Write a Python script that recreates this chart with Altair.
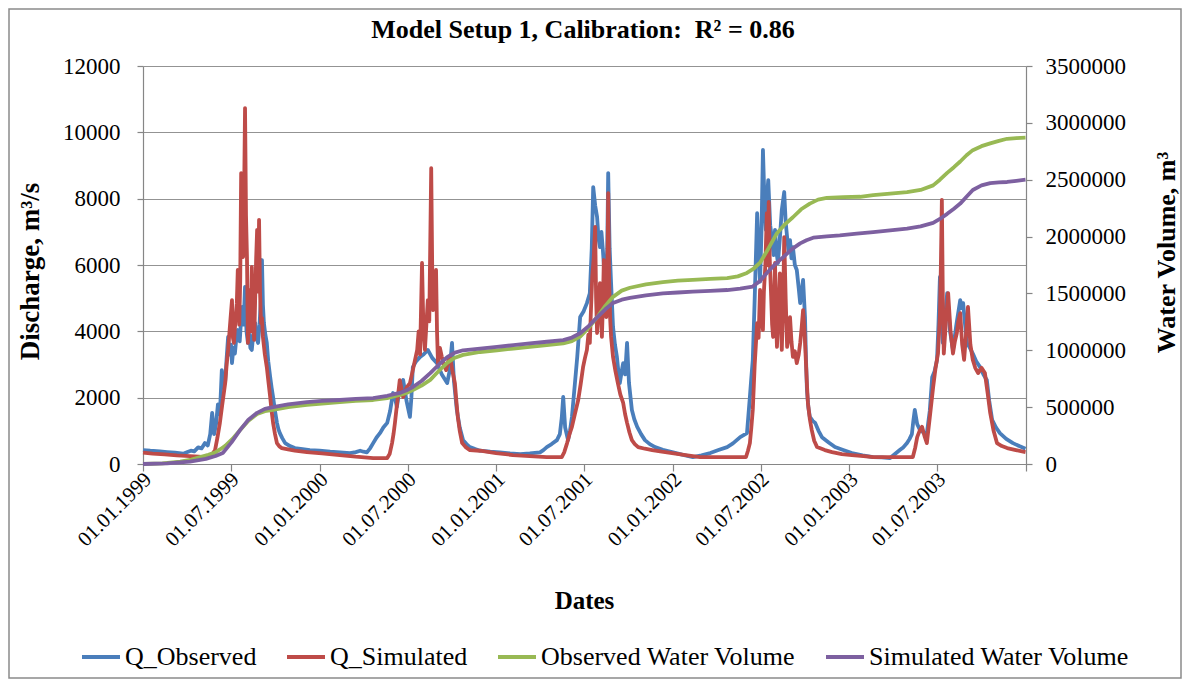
import altair as alt
import pandas as pd

FONT = "Liberation Serif"
TITLE = "Model Setup 1, Calibration:\u00a0\u00a0R\u00b2 = 0.86"
SERIES = ["Q_Observed", "Q_Simulated", "Observed Water Volume", "Simulated Water Volume"]
COLORS = ["#4A7EBB", "#BE4B48", "#98B954", "#7D60A0"]
START = "1999-01-01"
TICK_MONTHS = [(1999, 1), (1999, 7), (2000, 1), (2000, 7), (2001, 1), (2001, 7),
               (2002, 1), (2002, 7), (2003, 1), (2003, 7), (2004, 1)]
Q_TICKS = [0, 2000, 4000, 6000, 8000, 10000, 12000]
V_TICKS = [0, 500000, 1000000, 1500000, 2000000, 2500000, 3000000, 3500000]

# (days since 01.01.1999, discharge m3/s)
q_obs_points = [
    (0, 420), (15, 400), (35, 380), (50, 360), (66, 340), (83, 310), (92, 360), (99, 400), (106, 380), (114, 500),
    (121, 470), (128, 630), (134, 560), (139, 900), (143, 1540), (147, 900), (151, 1200), (155, 1800), (159, 1500),
    (163, 2830), (166, 2300), (170, 2500), (173, 3200), (176, 3830), (179, 3300), (182, 3600), (184, 3040),
    (187, 3500), (190, 3330), (193, 3800), (196, 4040), (200, 3700), (203, 4400), (205, 4740), (208, 4200),
    (211, 5340), (214, 4000), (217, 3650), (220, 3900), (222, 3500), (225, 3440), (228, 3900), (232, 4250),
    (235, 3800), (238, 3650), (241, 4200), (244, 5000), (246, 6150), (248, 4800), (250, 4250), (253, 3900),
    (256, 3650), (259, 3100), (263, 2620), (266, 2300), (269, 2020), (273, 1600), (277, 1240), (280, 1050),
    (283, 930), (288, 780), (294, 630), (304, 540), (314, 480), (330, 450), (345, 420), (365, 400), (387, 370),
    (408, 350), (428, 330), (440, 360), (449, 400), (456, 370), (463, 350), (470, 480), (476, 630), (483, 800),
    (490, 930), (497, 1100), (505, 1240), (511, 1600), (517, 2140), (521, 2000), (525, 1720), (531, 2300),
    (538, 2530), (545, 1900), (552, 1420), (555, 2000), (558, 2920), (565, 3100), (573, 3230), (580, 3300),
    (589, 3440), (598, 3200), (608, 3040), (618, 2700), (629, 2440), (634, 2800), (639, 3650), (643, 2500),
    (649, 1630), (655, 1100), (662, 720), (669, 600), (676, 510), (687, 450), (697, 400), (718, 370), (738, 350),
    (759, 320), (780, 300), (800, 320), (821, 350), (828, 420), (835, 510), (845, 600), (856, 720), (862, 900),
    (866, 1400), (869, 2020), (873, 1100), (879, 720), (883, 1000), (887, 1420), (893, 2400), (898, 3230),
    (904, 4430), (911, 4600), (918, 4850), (924, 5150), (928, 6500), (931, 8350), (935, 7800), (939, 7450),
    (942, 6800), (945, 6540), (948, 7000), (951, 6450), (954, 5800), (957, 5250), (960, 6500), (962, 8770),
    (965, 6500), (968, 5450), (972, 4130), (976, 3600), (980, 3230), (983, 2800), (986, 2440), (990, 2800),
    (993, 3040), (997, 2700), (1001, 3650), (1005, 2440), (1011, 1630), (1016, 1350), (1022, 1120), (1030, 900),
    (1038, 720), (1048, 600), (1059, 510), (1075, 430), (1094, 360), (1115, 280), (1137, 210), (1155, 260),
    (1173, 330), (1190, 420), (1208, 510), (1220, 620), (1235, 810), (1249, 930), (1255, 2020), (1258, 2600),
    (1261, 3140), (1265, 5000), (1270, 7560), (1273, 6500), (1276, 5500), (1279, 7000), (1282, 9470),
    (1285, 8000), (1288, 7060), (1291, 8200), (1293, 8560), (1297, 7200), (1301, 6750), (1304, 6300),
    (1307, 7060), (1310, 6400), (1313, 6060), (1317, 6800), (1321, 7660), (1326, 8200), (1329, 7300),
    (1332, 6840), (1335, 6400), (1338, 6750), (1341, 6200), (1344, 6540), (1348, 6000), (1352, 5850),
    (1356, 5300), (1359, 4850), (1362, 5200), (1365, 5550), (1369, 4430), (1371, 3200), (1373, 2230),
    (1376, 1700), (1379, 1420), (1385, 1300), (1390, 1240), (1397, 1000), (1404, 810), (1418, 650), (1431, 510),
    (1448, 420), (1466, 330), (1488, 260), (1510, 210), (1528, 200), (1545, 180), (1555, 300), (1565, 420),
    (1572, 500), (1580, 630), (1585, 750), (1590, 900), (1593, 1300), (1596, 1630), (1601, 1200), (1607, 1020),
    (1614, 950), (1621, 930), (1627, 1600), (1632, 2620), (1637, 2800), (1642, 3140), (1645, 4200), (1648, 5640),
    (1651, 4500), (1654, 3650), (1659, 4500), (1663, 5150), (1669, 4000), (1675, 3440), (1682, 4200),
    (1690, 4940), (1693, 4700), (1696, 4850), (1700, 4200), (1704, 3650), (1710, 3500), (1716, 3330),
    (1723, 3100), (1731, 2920), (1738, 2700), (1745, 2530), (1750, 1900), (1756, 1330), (1764, 1100),
    (1772, 930), (1785, 760), (1799, 630), (1812, 540), (1825, 460),
]

q_sim_points = [
    (0, 340), (20, 310), (45, 290), (70, 260), (97, 240), (115, 220), (132, 200), (142, 260), (149, 420),
    (154, 800), (159, 1240), (164, 1800), (170, 2440), (173, 3000), (176, 3440), (180, 4200), (184, 4940),
    (186, 3800), (188, 3650), (191, 4300), (194, 4850), (196, 5850), (199, 4200), (201, 5500), (203, 8770),
    (205, 7000), (207, 6240), (209, 8000), (211, 10730), (213, 7500), (215, 6240), (217, 3650), (219, 4500),
    (221, 5250), (223, 4000), (225, 5940), (227, 4500), (230, 3740), (232, 5000), (234, 6200), (236, 7060),
    (238, 5200), (240, 7360), (242, 5200), (244, 4250), (246, 4400), (248, 3830), (252, 3300), (256, 2920),
    (260, 2400), (263, 2020), (266, 1600), (269, 1240), (273, 900), (277, 630), (282, 530), (287, 480),
    (300, 440), (314, 400), (339, 360), (370, 320), (407, 270), (440, 220), (476, 180), (505, 180), (510, 300),
    (515, 630), (518, 900), (521, 1240), (526, 1900), (531, 2530), (534, 2300), (538, 2020), (545, 2300),
    (552, 2440), (559, 2900), (567, 3440), (570, 4000), (573, 3300), (577, 6060), (580, 4000), (583, 3440),
    (586, 4200), (589, 4940), (592, 4300), (596, 8920), (598, 6000), (600, 4640), (603, 5000), (606, 5850),
    (608, 4000), (610, 3040), (614, 3500), (618, 3230), (622, 3000), (627, 2830), (631, 3100), (635, 3230),
    (640, 2800), (645, 2440), (648, 1900), (651, 1420), (655, 1000), (660, 630), (668, 500), (676, 420),
    (697, 400), (730, 330), (765, 270), (800, 240), (835, 210), (866, 210), (871, 350), (877, 630), (882, 900),
    (887, 1120), (893, 1500), (900, 1930), (905, 2400), (910, 2920), (914, 3200), (918, 3440), (921, 3900),
    (924, 3650), (926, 4500), (929, 5640), (932, 6200), (935, 7150), (937, 5000), (939, 3950), (942, 4800),
    (945, 5450), (947, 4500), (949, 3830), (951, 4800), (953, 6150), (956, 5000), (958, 4430), (960, 5200),
    (962, 8170), (964, 5500), (966, 4400), (968, 3830), (972, 3230), (977, 2800), (982, 2440), (987, 2100),
    (993, 1840), (997, 1500), (1001, 1240), (1006, 950), (1011, 720), (1017, 600), (1024, 510), (1038, 460),
    (1053, 420), (1073, 370), (1094, 330), (1122, 270), (1152, 210), (1200, 210), (1247, 210), (1251, 400),
    (1255, 630), (1258, 1100), (1261, 1630), (1265, 3000), (1270, 4250), (1273, 3800), (1276, 5250),
    (1279, 4500), (1282, 4040), (1284, 5200), (1287, 6000), (1290, 7560), (1292, 6000), (1294, 7900),
    (1296, 6200), (1299, 5040), (1301, 4200), (1303, 3830), (1305, 4800), (1307, 6060), (1309, 4500),
    (1311, 3530), (1314, 4600), (1317, 5750), (1319, 4500), (1321, 3440), (1324, 5000), (1326, 6840),
    (1329, 5000), (1332, 3530), (1335, 3800), (1338, 4430), (1341, 3700), (1344, 3230), (1348, 3400),
    (1352, 3040), (1356, 3300), (1359, 3650), (1362, 4100), (1365, 4640), (1368, 4000), (1371, 3040),
    (1373, 2400), (1375, 1840), (1379, 1350), (1383, 1020), (1388, 700), (1394, 510), (1410, 420), (1425, 360),
    (1445, 300), (1466, 270), (1490, 240), (1510, 210), (1550, 210), (1592, 210), (1597, 500), (1601, 810),
    (1606, 1000), (1611, 1120), (1616, 850), (1621, 630), (1627, 1400), (1634, 2320), (1639, 2900),
    (1644, 3330), (1648, 4500), (1650, 6000), (1652, 7960), (1654, 5000), (1656, 3330), (1660, 4200),
    (1665, 5150), (1670, 4000), (1675, 3330), (1679, 3700), (1683, 3950), (1686, 4300), (1690, 4550),
    (1694, 3600), (1698, 3140), (1702, 3900), (1706, 4740), (1711, 3600), (1716, 3140), (1721, 2900),
    (1727, 2740), (1734, 2900), (1741, 2740), (1747, 2100), (1752, 1540), (1759, 1000), (1766, 630),
    (1776, 540), (1787, 480), (1805, 420), (1825, 360),
]

# (days since 01.01.1999, water volume m3)
v_obs_points = [
    (0, 0), (40, 5000), (77, 20000), (100, 38000), (118, 60000), (135, 80000), (149, 100000), (160, 130000),
    (170, 160000), (185, 220000), (201, 300000), (218, 380000), (236, 440000), (252, 465000), (269, 475000),
    (300, 500000), (339, 519000), (370, 532000), (407, 545000), (440, 555000), (476, 563000), (505, 580000),
    (531, 607000), (545, 625000), (558, 650000), (576, 690000), (594, 740000), (612, 820000), (629, 890000),
    (645, 935000), (662, 960000), (697, 985000), (732, 1000000), (766, 1015000), (800, 1030000),
    (835, 1045000), (869, 1060000), (887, 1080000), (904, 1120000), (922, 1200000), (939, 1290000),
    (956, 1390000), (972, 1470000), (990, 1525000), (1007, 1550000), (1040, 1580000), (1075, 1600000),
    (1106, 1612000), (1137, 1620000), (1173, 1628000), (1208, 1635000), (1230, 1650000), (1249, 1680000),
    (1262, 1715000), (1276, 1770000), (1294, 1900000), (1311, 2030000), (1328, 2110000), (1344, 2170000),
    (1361, 2240000), (1379, 2290000), (1396, 2325000), (1414, 2340000), (1448, 2346000), (1483, 2350000),
    (1510, 2365000), (1545, 2378000), (1580, 2390000), (1608, 2410000), (1634, 2450000), (1648, 2500000),
    (1663, 2560000), (1677, 2610000), (1690, 2660000), (1703, 2715000), (1716, 2760000), (1734, 2795000),
    (1752, 2820000), (1770, 2842000), (1787, 2860000), (1806, 2866000), (1825, 2870000),
]

v_sim_points = [
    (0, 0), (50, 5000), (97, 20000), (130, 45000), (150, 70000), (165, 97000), (183, 190000), (201, 300000),
    (218, 390000), (236, 450000), (252, 485000), (269, 500000), (300, 525000), (339, 545000), (370, 555000),
    (407, 563000), (440, 572000), (476, 580000), (505, 600000), (531, 625000), (545, 648000), (558, 677000),
    (576, 730000), (594, 800000), (612, 875000), (629, 940000), (645, 980000), (662, 1000000), (697, 1015000),
    (732, 1030000), (766, 1045000), (800, 1060000), (835, 1075000), (869, 1090000), (887, 1112000),
    (904, 1150000), (922, 1215000), (939, 1290000), (956, 1360000), (972, 1415000), (990, 1445000),
    (1007, 1460000), (1040, 1482000), (1075, 1500000), (1106, 1508000), (1137, 1515000), (1173, 1523000),
    (1208, 1530000), (1235, 1542000), (1261, 1560000), (1276, 1610000), (1290, 1680000), (1307, 1755000),
    (1324, 1820000), (1342, 1890000), (1359, 1940000), (1372, 1968000), (1386, 1990000), (1414, 2002000),
    (1441, 2010000), (1476, 2025000), (1510, 2040000), (1545, 2055000), (1580, 2070000), (1608, 2090000),
    (1634, 2120000), (1648, 2155000), (1663, 2200000), (1677, 2245000), (1690, 2290000), (1703, 2350000),
    (1716, 2410000), (1734, 2450000), (1752, 2470000), (1770, 2476000), (1787, 2480000), (1806, 2490000),
    (1825, 2500000),
]


def make_df(points, name):
    days = [p[0] for p in points]
    vals = [p[1] for p in points]
    return pd.DataFrame({
        "date": pd.Timestamp(START) + pd.to_timedelta(days, unit="D"),
        "value": vals,
        "series": name,
    })


df_qo = make_df(q_obs_points, SERIES[0])
df_qs = make_df(q_sim_points, SERIES[1])
df_vo = make_df(v_obs_points, SERIES[2])
df_vs = make_df(v_sim_points, SERIES[3])

x_enc = alt.X(
    "date:T",
    title="Dates",
    scale=alt.Scale(domain=[alt.DateTime(year=1999, month=1, date=1), alt.DateTime(year=2004, month=1, date=1)]),
    axis=alt.Axis(
        values=[alt.DateTime(year=y, month=m, date=1) for y, m in TICK_MONTHS],
        labelExpr="year(datum.value) > 2003 ? '' : timeFormat(datum.value, '%d.%m.%Y')",
        labelAngle=315, labelAlign="right", labelBaseline="middle", labelOverlap=False,
        labelFontSize=21, tickSize=7, labelPadding=5, labelOffset=5, grid=False,
        titleX=441, titleY=136, titleBaseline="middle", titleAlign="center",
    ),
)

y_q = alt.Y(
    "value:Q",
    title="Discharge, m\u00b3/s",
    scale=alt.Scale(domain=[0, 12000], nice=False),
    axis=alt.Axis(values=Q_TICKS, format="d", grid=True, orient="left", tickSize=6, labelPadding=17,
                  titleAngle=270, titleX=-113, titleY=205, titleBaseline="middle", titleAlign="center",
                  titleFontSize=27),
)
y_v = alt.Y(
    "value:Q",
    title="Water Volume, m\u00b3",
    scale=alt.Scale(domain=[0, 3500000], nice=False),
    axis=alt.Axis(values=V_TICKS, format="d", grid=False, orient="right", tickSize=6, labelPadding=13,
                  titleAngle=270, titleX=140, titleY=186, titleBaseline="middle", titleAlign="center",
                  titleFontSize=26),
)

color = alt.Color(
    "series:N",
    title=None,
    scale=alt.Scale(domain=SERIES, range=COLORS),
    legend=alt.Legend(orient="none", legendX=-63, legendY=570, direction="horizontal",
                      symbolType="stroke", symbolSize=1444, symbolStrokeWidth=4,
                      labelFont=FONT, labelFontSize=26, labelColor="#000", labelLimit=500,
                      labelOffset=3, columnPadding=22),
)


def line(df, y):
    return alt.Chart(df).mark_line(strokeWidth=3.8, strokeJoin="round").encode(x=x_enc, y=y, color=color)


left = alt.layer(line(df_qo, y_q), line(df_qs, y_q))
right = alt.layer(line(df_vo, y_v), line(df_vs, y_v))

one_row = pd.DataFrame({"a": [0]})
frame = alt.Chart(one_row).mark_rect(filled=False, stroke="#8a8a8a", strokeWidth=1.5).encode(
    x=alt.value(-134), x2=alt.value(1038), y=alt.value(-57), y2=alt.value(612)
)
title = alt.Chart(one_row).mark_text(
    text=TITLE, font=FONT, fontSize=26, fontWeight="bold", color="#000", align="center", baseline="middle"
).encode(x=alt.value(440), y=alt.value(-36))

chart = (
    alt.layer(frame, title, left, right)
    .resolve_scale(y="independent")
    .properties(
        width=883, height=398,
        padding={"left": 135, "top": 58, "right": 156, "bottom": 216},
        autosize=alt.AutoSizeParams(type="none"),
    )
    .configure_axis(labelFont=FONT, labelFontSize=23, labelColor="#000",
                    titleFont=FONT, titleFontSize=25, titleFontWeight="bold", titleColor="#000",
                    domainColor="#868686", tickColor="#868686", gridColor="#939393",
                    gridWidth=1.2, domainWidth=1.2, tickWidth=1.2)
    .configure_view(stroke="transparent")
)

chart.save("out.html", embed_options={"renderer": "svg", "actions": False})
